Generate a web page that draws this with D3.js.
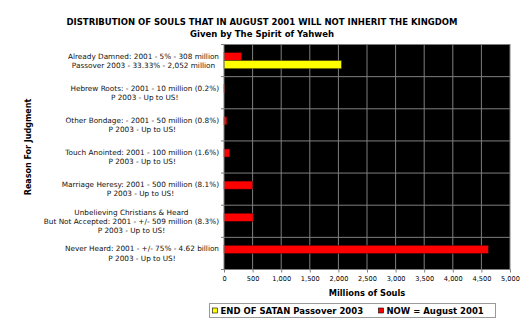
<!DOCTYPE html>
<html><head><meta charset="utf-8">
<script src="https://cdn.jsdelivr.net/npm/d3@7"></script>
<style>body{margin:0;background:#fff;} svg{display:block;}</style>
</head><body>
<script>
const categories = [
  ["Already Damned: 2001 - 5% - 308 million", "Passover 2003 - 33.33% - 2,052 million"],
  ["Hebrew Roots: - 2001 - 10 million (0.2%)", "P 2003 - Up to US!"],
  ["Other Bondage: - 2001 - 50 million (0.8%)", "P 2003 - Up to US!"],
  ["Touch Anointed: 2001 - 100 million (1.6%)", "P 2003 - Up to US!"],
  ["Marriage Heresy: 2001 - 500 million (8.1%)", "P 2003 - Up to US!"],
  ["Unbelieving Christians & Heard", "But Not Accepted: 2001 - +/- 509 million (8.3%)", "P 2003 - Up to US!"],
  ["Never Heard: 2001 - +/- 75% - 4.62 billion", "P 2003 - Up to US!"]
];
const nowValues = [308, 10, 50, 100, 500, 509, 4620];
const endValues = [2052, 0, 0, 0, 0, 0, 0];
const seriesNames = ["END OF SATAN Passover 2003", "NOW = August 2001"];
const xTicks = [0,500,1000,1500,2000,2500,3000,3500,4000,4500,5000];
const titleLines = ["DISTRIBUTION OF SOULS THAT IN AUGUST 2001 WILL NOT INHERIT THE KINGDOM", "Given by The Spirit of Yahweh"];

const W = 529, H = 333;
const FONT = "DejaVu Sans, Verdana, sans-serif";
const svg = d3.select("body").append("svg").attr("width", W).attr("height", H);

const plot = {left: 224, right: 510, top: 44.5, bottom: 269.5};
const x = d3.scaleLinear().domain([0, 5000]).range([plot.left, plot.right]);
const y = d3.scaleBand().domain(d3.range(categories.length)).range([plot.top, plot.bottom]).paddingInner(0).paddingOuter(0);
const gap = y.bandwidth() / 4;
const inner = d3.scaleBand().domain(["now", "end"]).range([gap, y.bandwidth() - gap]);

// title
svg.selectAll("text.title").data(titleLines).join("text")
  .attr("x", 262).attr("y", (d, i) => 25 + i * 11.5)
  .attr("text-anchor", "middle").attr("font-family", FONT).attr("font-weight", "bold")
  .attr("font-size", "8.5px").attr("fill", "#000").text(d => d);

// plot background
svg.append("rect").attr("x", plot.left).attr("y", plot.top)
  .attr("width", plot.right - plot.left).attr("height", plot.bottom - plot.top).attr("fill", "#000");

// vertical gridlines
svg.append("g").selectAll("line").data(xTicks.slice(1, -1)).join("line")
  .attr("x1", d => x(d)).attr("x2", d => x(d)).attr("y1", plot.top).attr("y2", plot.bottom)
  .attr("stroke", "#7f7f7f").attr("stroke-width", 1);
// horizontal gridlines at band boundaries
svg.append("g").selectAll("line").data(d3.range(1, categories.length)).join("line")
  .attr("x1", plot.left).attr("x2", plot.right)
  .attr("y1", d => y(d)).attr("y2", d => y(d))
  .attr("stroke", "#7f7f7f").attr("stroke-width", 1);

// bars
const rows = categories.map((c, i) => ({i, now: nowValues[i], end: endValues[i]}));
const g = svg.append("g");
g.selectAll("rect.now").data(rows).join("rect")
  .attr("x", x(0)).attr("y", d => y(d.i) + inner("now"))
  .attr("width", d => x(d.now) - x(0)).attr("height", inner.bandwidth())
  .attr("fill", "#ff0000").attr("stroke", "#400000").attr("stroke-width", 0.5);
g.selectAll("rect.end").data(rows.filter(d => d.end > 0)).join("rect")
  .attr("x", x(0)).attr("y", d => y(d.i) + inner("end"))
  .attr("width", d => x(d.end) - x(0)).attr("height", inner.bandwidth())
  .attr("fill", "#ffff00").attr("stroke", "#404000").attr("stroke-width", 0.5);

// plot border
svg.append("rect").attr("x", plot.left).attr("y", plot.top)
  .attr("width", plot.right - plot.left).attr("height", plot.bottom - plot.top)
  .attr("fill", "none").attr("stroke", "#7f7f7f").attr("stroke-width", 1);

// x axis
const xAxis = d3.axisBottom(x).tickValues(xTicks).tickFormat(d3.format(",")).tickSize(3).tickPadding(4);
const xa = svg.append("g").attr("transform", `translate(0,${plot.bottom})`).call(xAxis);
xa.select(".domain").remove();
xa.selectAll("line").attr("stroke", "#7f7f7f");
xa.selectAll("text").attr("font-family", FONT).attr("font-size", "6.6px").attr("fill", "#000");

// y axis ticks at band boundaries
svg.append("g").selectAll("line").data(d3.range(0, categories.length + 1)).join("line")
  .attr("x1", plot.left - 3).attr("x2", plot.left)
  .attr("y1", d => d < categories.length ? y(d) : plot.bottom)
  .attr("y2", d => d < categories.length ? y(d) : plot.bottom)
  .attr("stroke", "#7f7f7f");

// category labels
const lineH = 9.2;
const labG = svg.append("g");
categories.forEach((lines, i) => {
  const t = labG.append("text").attr("font-family", FONT).attr("font-size", "7.3px").attr("fill", "#111")
    .attr("text-anchor", "middle");
  const cy = y(i) + y.bandwidth() / 2;
  lines.forEach((ln, k) => {
    t.append("tspan").attr("y", cy + (k - (lines.length - 1) / 2) * lineH + 2.6).text(ln);
  });
  let maxW = 0;
  t.selectAll("tspan").each(function() { maxW = Math.max(maxW, this.getComputedTextLength()); });
  t.selectAll("tspan").attr("x", 219 - maxW / 2);
});

// axis titles
svg.append("text").attr("x", (plot.left + plot.right) / 2).attr("y", 296)
  .attr("text-anchor", "middle").attr("font-family", FONT).attr("font-weight", "bold")
  .attr("font-size", "8.3px").text("Millions of Souls");
svg.append("text").attr("transform", "translate(31,147) rotate(-90)")
  .attr("text-anchor", "middle").attr("font-family", FONT).attr("font-weight", "bold")
  .attr("font-size", "8px").text("Reason For Judgment");

// legend
svg.append("rect").attr("x", 209.5).attr("y", 303.5).attr("width", 286).attr("height", 14)
  .attr("fill", "#fff").attr("stroke", "#999").attr("stroke-width", 1);
const legColors = ["#ffff00", "#ff0000"];
const legX = [212.5, 378.5];
seriesNames.forEach((s, i) => {
  svg.append("rect").attr("x", legX[i]).attr("y", 308).attr("width", 5).attr("height", 5)
    .attr("fill", legColors[i]).attr("stroke", "#000").attr("stroke-width", 0.6);
  svg.append("text").attr("x", legX[i] + 8).attr("y", 313.8).attr("font-family", FONT)
    .attr("font-weight", "bold").attr("font-size", "8.5px").attr("fill", "#000").text(s);
});
</script>
</body></html>
